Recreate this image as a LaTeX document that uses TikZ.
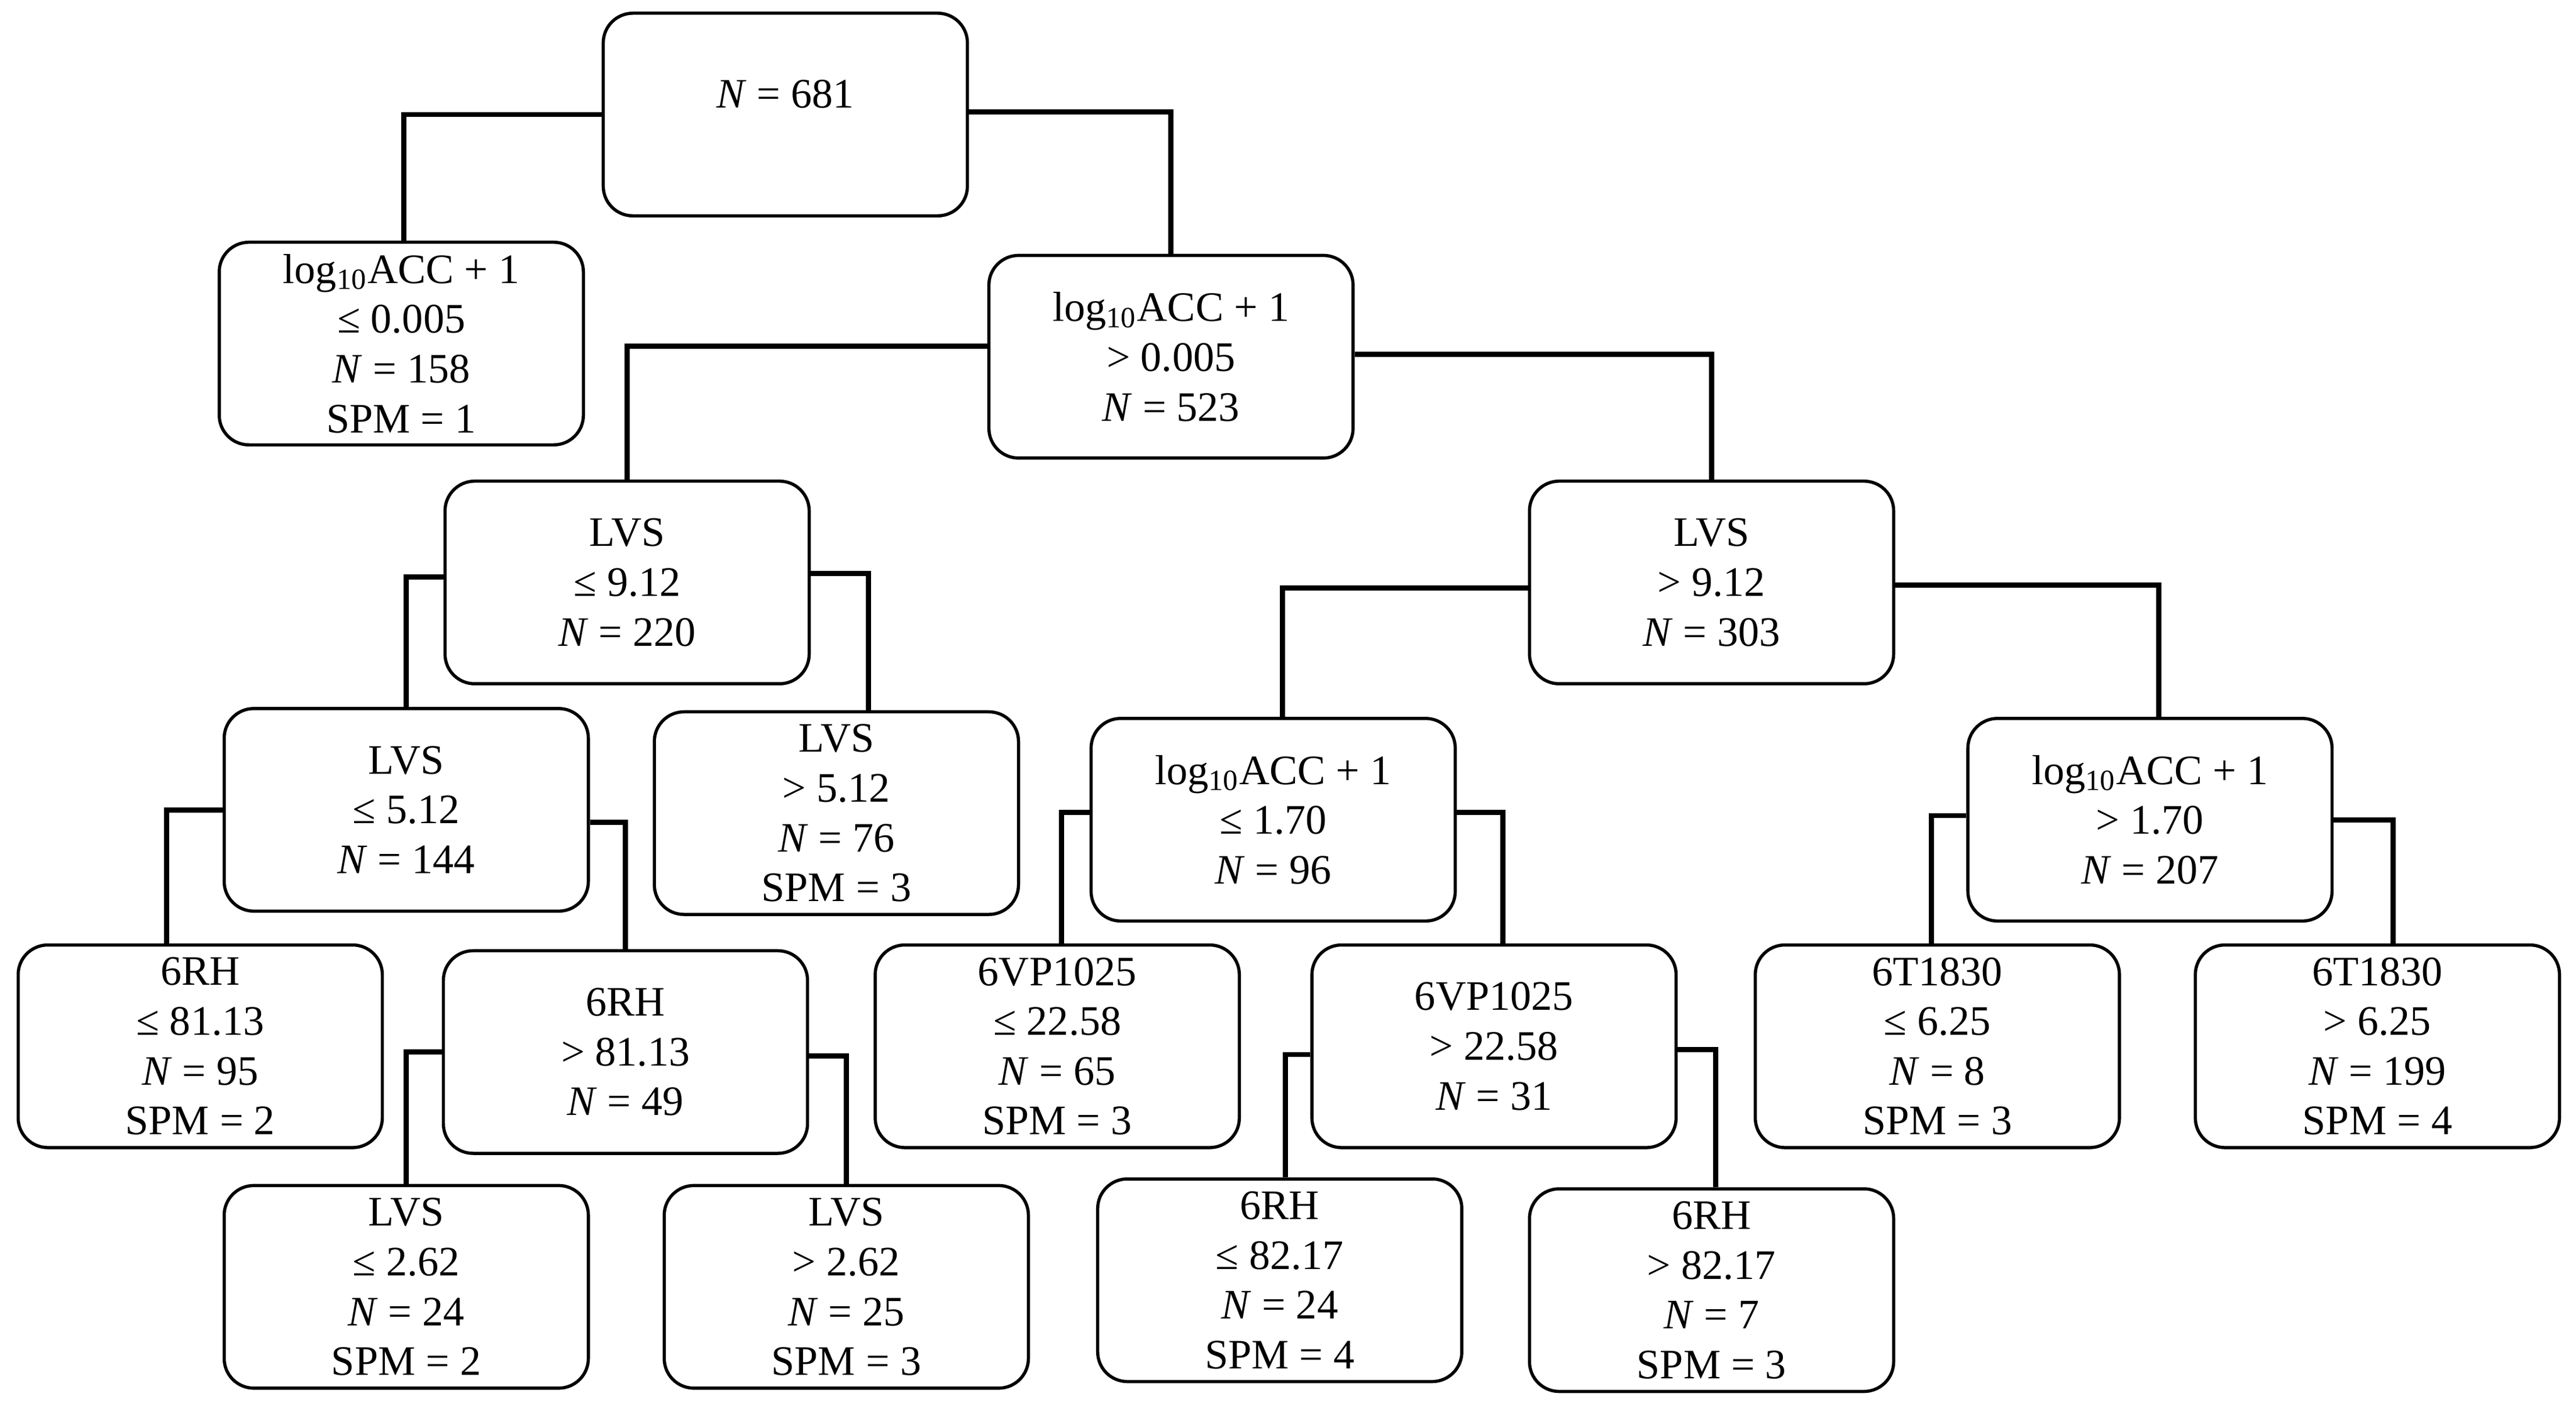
\documentclass[tikz,border=0pt]{standalone}
\usepackage{fontspec}
\setmainfont{Liberation Serif}
\begin{document}
\begin{tikzpicture}[x=0.02cm,y=-0.02cm,
  box/.style={draw=black,line width=1.1pt,rounded corners=0.36cm,fill=white,
    minimum width=4.42cm,minimum height=2.46cm,align=center,inner sep=0pt,
    font=\fontsize{14.5}{17.2}\selectfont},
  conn/.style={line width=1.8pt,line join=miter}]
\useasboundingbox (0,0) rectangle (1563,850);
\newcommand{\logacc}{log\textsubscript{10}ACC + 1}
\newcommand{\NN}{\textit{N}}
% nodes
\node[box] (root) at (476.5,69.5) {};
\node[font=\fontsize{14.5}{17.2}\selectfont] (roott) at ([yshift=0.25cm]root.center) {\NN{} = 681};
\node[box] (A) at (243.5,208.5) {\logacc\\≤ 0.005\\\NN{} = 158\\SPM = 1};
\node[box] (B) at (710.5,216.5) {\logacc\\> 0.005\\\NN{} = 523};
\node[box] (C) at (380.5,353.5) {LVS\\≤ 9.12\\\NN{} = 220};
\node[box] (D) at (1038.5,353.5) {LVS\\> 9.12\\\NN{} = 303};
\node[box] (E) at (246.5,491.5) {LVS\\≤ 5.12\\\NN{} = 144};
\node[box] (F) at (507.5,493.5) {LVS\\> 5.12\\\NN{} = 76\\SPM = 3};
\node[box] (G) at (772.5,497.5) {\logacc\\≤ 1.70\\\NN{} = 96};
\node[box] (H) at (1304.5,497.5) {\logacc\\> 1.70\\\NN{} = 207};
\node[box] (I) at (121.5,635) {6RH\\≤ 81.13\\\NN{} = 95\\SPM = 2};
\node[box] (J) at (379.5,638.5) {6RH\\> 81.13\\\NN{} = 49};
\node[box] (K) at (641.5,635) {6VP1025\\≤ 22.58\\\NN{} = 65\\SPM = 3};
\node[box] (L) at (906.5,635) {6VP1025\\> 22.58\\\NN{} = 31};
\node[box] (M) at (1175.5,635) {6T1830\\≤ 6.25\\\NN{} = 8\\SPM = 3};
\node[box] (N) at (1442.5,635) {6T1830\\> 6.25\\\NN{} = 199\\SPM = 4};
\node[box] (O) at (246.5,781) {LVS\\≤ 2.62\\\NN{} = 24\\SPM = 2};
\node[box] (P) at (513.5,781) {LVS\\> 2.62\\\NN{} = 25\\SPM = 3};
\node[box] (Q) at (776.5,777) {6RH\\≤ 82.17\\\NN{} = 24\\SPM = 4};
\node[box] (R) at (1038.5,783) {6RH\\> 82.17\\\NN{} = 7\\SPM = 3};
% connectors
\draw[conn] (root.west) -| ([xshift=0.03cm]A.north);
\draw[conn] ([yshift=0.03cm]root.east) -| (B.north);
\draw[conn] ([yshift=0.13cm]B.west) -| (C.north);
\draw[conn] ([yshift=0.03cm]B.east) -| (D.north);
\draw[conn] ([yshift=0.07cm]C.west) -| (E.north);
\draw[conn] ([yshift=0.11cm]C.east) -| ([xshift=0.39cm]F.north);
\draw[conn] ([yshift=-0.07cm]D.west) -| ([xshift=0.11cm]G.north);
\draw[conn] ([yshift=-0.03cm]D.east) -| ([xshift=0.11cm]H.north);
\draw[conn] (E.west) -| ([xshift=-0.41cm]I.north);
\draw[conn] ([yshift=-0.15cm]E.east) -| (J.north);
\draw[conn] ([yshift=0.09cm]G.west) -| ([xshift=0.05cm]K.north);
\draw[conn] ([yshift=0.09cm]G.east) -| ([xshift=0.11cm]L.north);
\draw[conn] ([yshift=0.05cm]H.west) -| ([xshift=-0.07cm]M.north);
\draw[conn] (H.east) -| ([xshift=0.19cm]N.north);
\draw[conn] (J.west) -| (O.north);
\draw[conn] ([yshift=-0.05cm]J.east) -| (P.north);
\draw[conn] ([yshift=-0.1cm]L.west) -| ([xshift=0.07cm]Q.north);
\draw[conn] ([yshift=-0.04cm]L.east) -| ([xshift=0.05cm]R.north);
\end{tikzpicture}
\end{document}
